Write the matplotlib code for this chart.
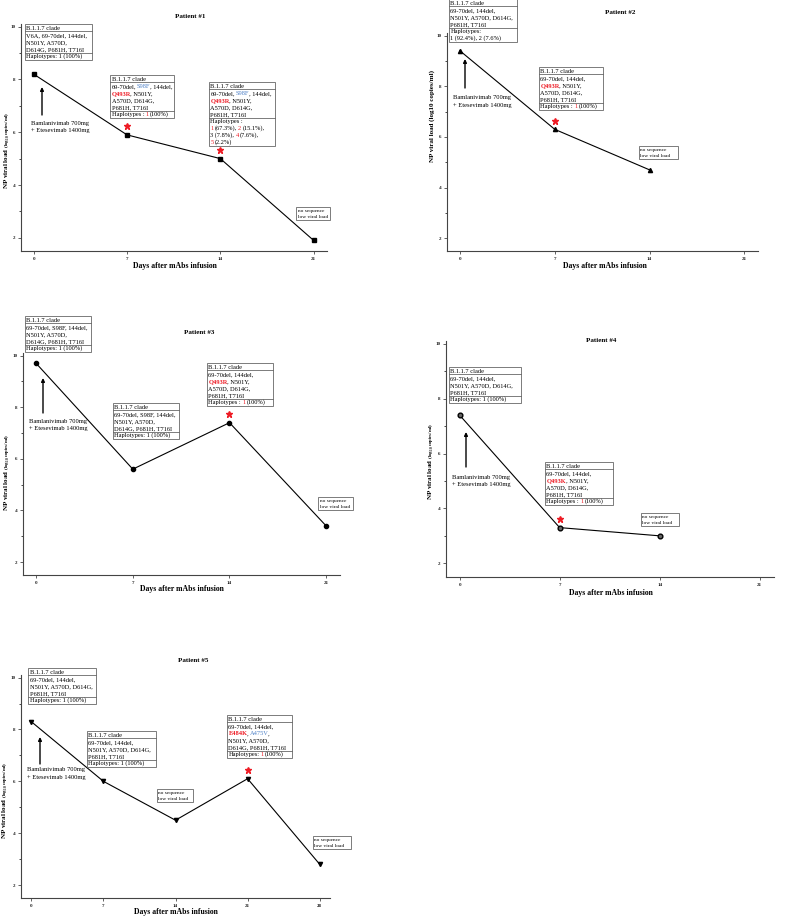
import re
import matplotlib
matplotlib.use('Agg')
import matplotlib.pyplot as plt
from matplotlib.patches import Rectangle
from matplotlib.ticker import AutoMinorLocator

plt.rcParams['font.family'] = ['Liberation Serif', 'DejaVu Serif']
plt.rcParams['mathtext.fontset'] = 'custom'
plt.rcParams['mathtext.rm'] = 'Liberation Serif'
plt.rcParams['mathtext.bf'] = 'Liberation Serif:bold'
plt.rcParams['mathtext.it'] = 'Liberation Serif:italic'

W, H = 787, 918
RED = '#ee1c25'
BLUE = '#4f81c7'
FS = 4.6      # box text size
LH = 7.05     # box line height in px

# ---- data ----
days1 = [0, 7, 14, 21]
load1 = [8.2, 5.9, 5.0, 1.9]
stars1 = [7, 14]

days2 = [0, 7, 14]
load2 = [9.4, 6.3, 4.7]
stars2 = [7]

days3 = [0, 7, 14, 21]
load3 = [9.7, 5.6, 7.4, 3.4]
stars3 = [14]

days4 = [0, 7, 14]
load4 = [7.4, 3.3, 3.0]
stars4 = [7]

days5 = [0, 7, 14, 21, 28]
load5 = [8.3, 6.0, 4.5, 6.1, 2.8]
stars5 = [21]

# box texts: sections of lines, {r:..} red bold, {b:..} blue, {n:..} red
HDR = ['B.1.1.7 clade']
NOSEQ = ['no sequence', 'low viral load']

p1_boxes = [
    [HDR, ['V6A, 69-70del, 144del,', 'N501Y, A570D,', 'D614G, P681H, T716I'],
     ['Haplotypes: 1 (100%)']],
    [HDR, ['69-70del, {b:S98F}, 144del,', '{r:Q493R}, N501Y,', 'A570D, D614G,', 'P681H, T716I'],
     ['Haplotypes : {n:1} (100%)']],
    [HDR, ['69-70del, {b:S98F}, 144del,', '{r:Q493R}, N501Y,', 'A570D, D614G,', 'P681H, T716I'],
     ['Haplotypes :', '{n:1} (67.3%), {n:2} (15.1%),', '3 (7.8%), {n:4} (7.6%),', '{n:5} (2.2%)']],
]
p2_boxes = [
    [HDR, ['69-70del, 144del,', 'N501Y, A570D, D614G,', 'P681H, T716I'],
     ['Haplotypes:', '1 (92.4%), 2 (7.6%)']],
    [HDR, ['69-70del, 144del,', '{r:Q493R}, N501Y,', 'A570D, D614G,', 'P681H, T716I'],
     ['Haplotypes : {n:1} (100%)']],
]
p3_boxes = [
    [HDR, ['69-70del, S98F, 144del,', 'N501Y, A570D,', 'D614G, P681H, T716I'],
     ['Haplotypes: 1 (100%)']],
    [HDR, ['69-70del, S98F, 144del,', 'N501Y, A570D,', 'D614G, P681H, T716I'],
     ['Haplotypes: 1 (100%)']],
    [HDR, ['69-70del, 144del,', '{r:Q493R}, N501Y,', 'A570D, D614G,', 'P681H, T716I'],
     ['Haplotypes : {n:1} (100%)']],
]
p4_boxes = [
    [HDR, ['69-70del, 144del,', 'N501Y, A570D, D614G,', 'P681H, T716I'],
     ['Haplotypes: 1 (100%)']],
    [HDR, ['69-70del, 144del,', '{r:Q493K}, N501Y,', 'A570D, D614G,', 'P681H, T716I'],
     ['Haplotypes : {n:1} (100%)']],
]
p5_boxes = [
    [HDR, ['69-70del, 144del,', 'N501Y, A570D, D614G,', 'P681H, T716I'],
     ['Haplotypes: 1 (100%)']],
    [HDR, ['69-70del, 144del,', 'N501Y, A570D, D614G,', 'P681H, T716I'],
     ['Haplotypes: 1 (100%)']],
    [HDR, ['69-70del, 144del,', '{r:E484K}, {b:A475V},', 'N501Y, A570D,', 'D614G, P681H, T716I'],
     ['Haplotypes: {n:1} (100%)']],
]

TREAT = ['Bamlanivimab 700mg', '+ Etesevimab 1400mg']
XLABEL = 'Days after mAbs infusion'
YLAB_SUB = r'NP viral load $\mathregular{_{(log_{10}\ copies/ml)}}$'
YLAB_PLAIN = 'NP viral load (log10 copies/ml)'

# ---- layout (pixels from top-left) ----
panels = [
    dict(title='Patient #1', days=days1, load=load1, stars=stars1, marker='s', ms=2.6, mfc='black',
         ticks=[0, 7, 14, 21], xlim=(-0.95, 22), ax=(21, 24, 327, 251),
         tpos=(190, 16), xpos=(175, 266), ypos=(7, 150), ylab=YLAB_SUB,
         boxes=list(zip([(25, 24, 67), (110, 75, 64), (209, 82, 66)], p1_boxes)),
         noseq=[(296, 207, 34)], treat=(31, 123), arrow=(42, 115, 87)),
    dict(title='Patient #2', days=days2, load=load2, stars=stars2, marker='^', ms=3, mfc='black',
         ticks=[0, 7, 14, 21], xlim=(-0.95, 22), ax=(447, 33, 758, 251),
         tpos=(620, 12), xpos=(605, 266), ypos=(432, 116), ylab=YLAB_PLAIN,
         boxes=list(zip([(449, -1, 68), (539, 67, 64)], p2_boxes)),
         noseq=[(639, 146, 39)], treat=(453, 98), arrow=(465, 88, 59)),
    dict(title='Patient #3', days=days3, load=load3, stars=stars3, marker='o', ms=3, mfc='black',
         ticks=[0, 7, 14, 21], xlim=(-0.95, 22), ax=(23, 353, 340, 575),
         tpos=(199, 332), xpos=(182, 589), ypos=(7, 472), ylab=YLAB_SUB,
         boxes=list(zip([(25, 316, 66), (113, 403, 66), (207, 363, 66)], p3_boxes)),
         noseq=[(318, 497, 35)], treat=(29, 421), arrow=(43, 413, 378)),
    dict(title='Patient #4', days=days4, load=load4, stars=stars4, marker='o', ms=3.4, mfc='0.4',
         ticks=[0, 7, 14, 21], xlim=(-0.95, 22), ax=(446, 341, 774, 577),
         tpos=(601, 341), xpos=(611, 593), ypos=(431, 461), ylab=YLAB_SUB,
         boxes=list(zip([(449, 367, 72), (545, 462, 68)], p4_boxes)),
         noseq=[(641, 513, 38)], treat=(452, 477), arrow=(466, 467, 432)),
    dict(title='Patient #5', days=days5, load=load5, stars=stars5, marker='v', ms=3, mfc='black',
         ticks=[0, 7, 14, 21, 28], xlim=(-1, 29), ax=(21, 675, 330, 898),
         tpos=(193, 660), xpos=(176, 912), ypos=(5, 800), ylab=YLAB_SUB,
         boxes=list(zip([(28, 668, 68), (87, 731, 69), (227, 715, 65)], p5_boxes)),
         noseq=[(157, 789, 36), (313, 836, 38)], treat=(27, 770), arrow=(40, 764, 737)),
]

fig = plt.figure(figsize=(W / 100, H / 100), dpi=100)
ov = fig.add_axes([0, 0, 1, 1], zorder=10)
ov.set_xlim(0, W)
ov.set_ylim(H, 0)
ov.axis('off')
ov.patch.set_alpha(0)

TOK = re.compile(r'\{(\w):([^}]*)\}')
STYLE = {'k': ('black', 'normal'), 'r': (RED, 'bold'), 'b': (BLUE, 'normal'), 'n': (RED, 'normal')}


def segments(line):
    out, pos = [], 0
    for m in TOK.finditer(line):
        if m.start() > pos:
            out.append((line[pos:m.start()], 'k'))
        out.append((m.group(2), m.group(1)))
        pos = m.end()
    if pos < len(line):
        out.append((line[pos:], 'k'))
    return out


def draw_line(x, y, line, fs):
    prev, gap = None, 0
    for text, st in segments(line):
        body = text.strip(' ')
        gap += len(text) - len(text.lstrip(' '))
        color, weight = STYLE[st]
        if prev is None:
            prev = ov.annotate(body, xy=(x, y), xycoords='data', va='bottom', ha='left',
                               fontsize=fs, color=color, fontweight=weight)
        else:
            prev = ov.annotate(body, xy=(1, 0), xycoords=prev,
                               xytext=(gap * 0.25 * fs - 0.35, 0),
                               textcoords='offset points', va='bottom', ha='left',
                               fontsize=fs, color=color, fontweight=weight)
        gap = len(text) - len(text.rstrip(' '))


def draw_box(x0, y0, w, sections, fs=FS, lh=LH, dividers=True):
    n = sum(len(s) for s in sections)
    ov.add_patch(Rectangle((x0, y0), w, n * lh + 0.8, fill=True, facecolor='white',
                           edgecolor='#666666', lw=0.6))
    i = 0
    for k, sec in enumerate(sections):
        for line in sec:
            draw_line(x0 + 1.5, y0 + (i + 1) * lh - 0.2, line, fs)
            i += 1
        if dividers and k < len(sections) - 1:
            ov.plot([x0, x0 + w], [y0 + i * lh + 0.4] * 2, color='#666666', lw=0.6)


for p in panels:
    l, t, r, b = p['ax']
    ax = fig.add_axes([l / W, 1 - b / H, (r - l) / W, (b - t) / H])
    ax.plot(p['days'], p['load'], color='black', lw=0.8, marker=p['marker'], ms=p['ms'],
            mfc=p['mfc'], mec='black', mew=1.0)
    sy = [p['load'][p['days'].index(d)] + 0.32 for d in p['stars']]
    ax.plot(p['stars'], sy, ls='none', marker='*', ms=4.5, color=RED, mec=RED)
    ax.set_xlim(*p['xlim'])
    ax.set_ylim(1.5, 10.1)
    ax.set_xticks(p['ticks'])
    ax.set_yticks([2, 4, 6, 8, 10])
    ax.yaxis.set_minor_locator(AutoMinorLocator(2))
    ax.tick_params(labelsize=3.6, length=2, width=0.5, pad=2, colors='#222222')
    ax.tick_params(which='minor', length=1.3, width=0.5)
    for lab in ax.get_xticklabels() + ax.get_yticklabels():
        lab.set_fontweight('bold')
    for s in ['top', 'right']:
        ax.spines[s].set_visible(False)
    for s in ['left', 'bottom']:
        ax.spines[s].set_linewidth(0.8)
        ax.spines[s].set_color('#444444')
    ax.patch.set_alpha(0)

    ov.text(*p['tpos'], p['title'], fontsize=5, fontweight='bold', ha='center', va='center')
    ov.text(*p['xpos'], XLABEL, fontsize=5.6, fontweight='bold', ha='center', va='center')
    ov.text(*p['ypos'], p['ylab'], fontsize=5, fontweight='bold', ha='center', va='center',
            rotation=90)

    for (bx, by, bw), secs in p['boxes']:
        draw_box(bx, by, bw, secs)
    for bx, by, bw in p['noseq']:
        draw_box(bx, by, bw, [NOSEQ], fs=3.9, lh=6.1, dividers=False)

    tx, ty = p['treat']
    ov.text(tx, ty, TREAT[0], fontsize=4.7, ha='left', va='center')
    ov.text(tx, ty + 7.5, TREAT[1], fontsize=4.7, ha='left', va='center')
    axx, ay0, ay1 = p['arrow']
    ov.annotate('', xy=(axx, ay1), xytext=(axx, ay0),
                arrowprops=dict(arrowstyle='-|>', color='black', lw=1.0, mutation_scale=5,
                                shrinkA=0, shrinkB=0))

fig.savefig('out.png', dpi=100)
